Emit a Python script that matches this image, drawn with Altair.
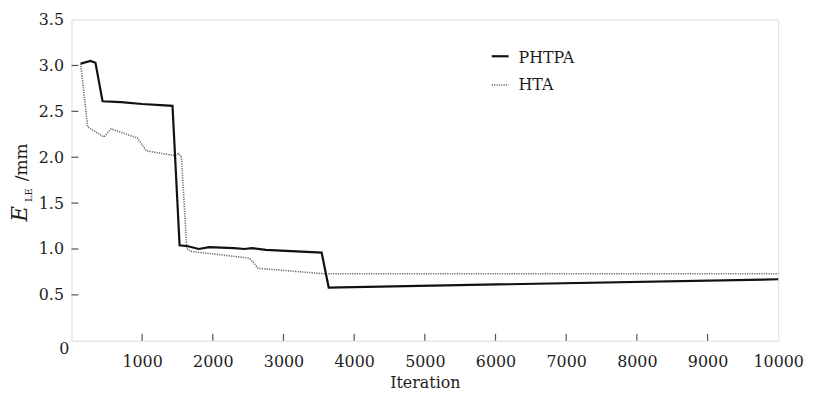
import altair as alt
import pandas as pd

# ---- data ----
iter_phtpa = [130, 270, 340, 440, 700, 1000, 1430, 1530, 1650, 1800, 1950, 2300, 2450, 2550, 2750, 3540, 3640, 10000]
ele_phtpa = [3.02, 3.05, 3.03, 2.61, 2.60, 2.58, 2.56, 1.04, 1.03, 1.00, 1.02, 1.01, 1.00, 1.01, 0.99, 0.96, 0.58, 0.67]

iter_hta = [130, 230, 460, 560, 930, 960, 1060, 1445, 1515, 1557, 1631, 1680, 2520, 2640, 3570, 10000]
ele_hta = [3.02, 2.33, 2.22, 2.31, 2.21, 2.18, 2.07, 2.02, 2.04, 2.00, 1.01, 0.975, 0.90, 0.79, 0.73, 0.73]

series = ["PHTPA", "HTA"]
x_tick_values = [1000, 2000, 3000, 4000, 5000, 6000, 7000, 8000, 9000]
x_label_values = [1000, 2000, 3000, 4000, 5000, 6000, 7000, 8000, 9000, 10000]
y_tick_values = [0.5, 1.0, 1.5, 2.0, 2.5, 3.0]
y_label_values = [0.5, 1.0, 1.5, 2.0, 2.5, 3.0, 3.5]
zero_label = [0]

FONT = "'DejaVu Serif', serif"
TXT = "#1e1e1e"
FRAME = "#555555"
W, H = 713, 324
FS = 16

df_p = pd.DataFrame({"iter": iter_phtpa, "ele": ele_phtpa})
df_h = pd.DataFrame({"iter": iter_hta, "ele": ele_hta})

xs = alt.Scale(domain=[0, 10000], nice=False, zero=False)
ys = alt.Scale(domain=[0, 3.5], nice=False, zero=False)

x_axis = alt.Axis(values=x_label_values, format="d", labelFlush=False, labelOverlap=False,
                  ticks=False, domain=False, grid=False, labelFont=FONT, labelFontSize=FS,
                  labelColor=TXT, labelPadding=13, title="Iteration", titleFont=FONT,
                  titleFontSize=FS, titleFontWeight="normal", titleColor=TXT, titlePadding=5)
y_axis = alt.Axis(values=y_label_values, format=".1f", labelFlush=False, labelOverlap=False,
                  ticks=False, domain=False, grid=False, labelFont=FONT, labelFontSize=FS,
                  labelColor=TXT, labelPadding=8, title=None)

X = lambda f: alt.X(f + ":Q", scale=xs, axis=x_axis)
Y = lambda f: alt.Y(f + ":Q", scale=ys, axis=y_axis)

hta = alt.Chart(df_h).mark_line(color="#6a6a6a", strokeWidth=1.6, strokeDash=[1.2, 1.2]).encode(
    x=X("iter"), y=Y("ele"))
phtpa = alt.Chart(df_p).mark_line(color="#111111", strokeWidth=2.2).encode(
    x=X("iter"), y=Y("ele"))

xt = alt.Chart(pd.DataFrame({"iter": x_tick_values})).mark_rule(color=FRAME, strokeWidth=1.2).encode(
    x=X("iter"), y=alt.value(H), y2=alt.value(H - 7))
yt = alt.Chart(pd.DataFrame({"ele": y_tick_values})).mark_rule(color=FRAME, strokeWidth=1.2).encode(
    y=Y("ele"), x=alt.value(0), x2=alt.value(7))

zero = alt.Chart(pd.DataFrame({"ele": zero_label, "lab": ["0"]})).mark_text(
    font=FONT, fontSize=FS, color=TXT, align="right", baseline="middle", dy=8).encode(
    y=Y("ele"), x=alt.value(-2), text="lab:N")

# legend
leg_p_line = alt.Chart(pd.DataFrame({"s": [series[0]]})).mark_rule(color="#111111", strokeWidth=2.2).encode(
    x=alt.value(424), x2=alt.value(441), y=alt.value(37))
leg_p_text = alt.Chart(pd.DataFrame({"s": [series[0]]})).mark_text(
    font=FONT, fontSize=FS, color=TXT, align="left", baseline="middle").encode(
    x=alt.value(451), y=alt.value(39), text="s:N")
leg_h_line = alt.Chart(pd.DataFrame({"s": [series[1]]})).mark_rule(
    color="#6a6a6a", strokeWidth=1.6, strokeDash=[1.2, 1.2]).encode(
    x=alt.value(424), x2=alt.value(441), y=alt.value(66))
leg_h_text = alt.Chart(pd.DataFrame({"s": [series[1]]})).mark_text(
    font=FONT, fontSize=FS, color=TXT, align="left", baseline="middle").encode(
    x=alt.value(451), y=alt.value(66), text="s:N")

# y-axis title: E_LE /mm
tE = alt.Chart(pd.DataFrame({"t": ["E"]})).mark_text(
    font=FONT, fontSize=22, fontStyle="italic", color=TXT, angle=270, align="left",
    baseline="alphabetic").encode(x=alt.value(-45), y=alt.value(204), text="t:N")
tLE = alt.Chart(pd.DataFrame({"t": ["LE"]})).mark_text(
    font=FONT, fontSize=10, color=TXT, angle=270, align="left",
    baseline="alphabetic").encode(x=alt.value(-40), y=alt.value(184), text="t:N")
tmm = alt.Chart(pd.DataFrame({"t": ["/mm"]})).mark_text(
    font=FONT, fontSize=17, color=TXT, angle=270, align="left",
    baseline="alphabetic").encode(x=alt.value(-45), y=alt.value(163), text="t:N")

chart = alt.layer(hta, phtpa, xt, yt, zero, leg_p_line, leg_p_text, leg_h_line, leg_h_text,
                  tE, tLE, tmm).properties(
    width=W, height=H,
    autosize=alt.AutoSizeParams(type="none"),
    padding={"left": 64, "top": 10, "right": 27, "bottom": 50},
).configure_view(stroke=FRAME, strokeWidth=1.3).configure(background="white")

chart.save("out.html", embed_options={"renderer": "svg", "actions": False})
